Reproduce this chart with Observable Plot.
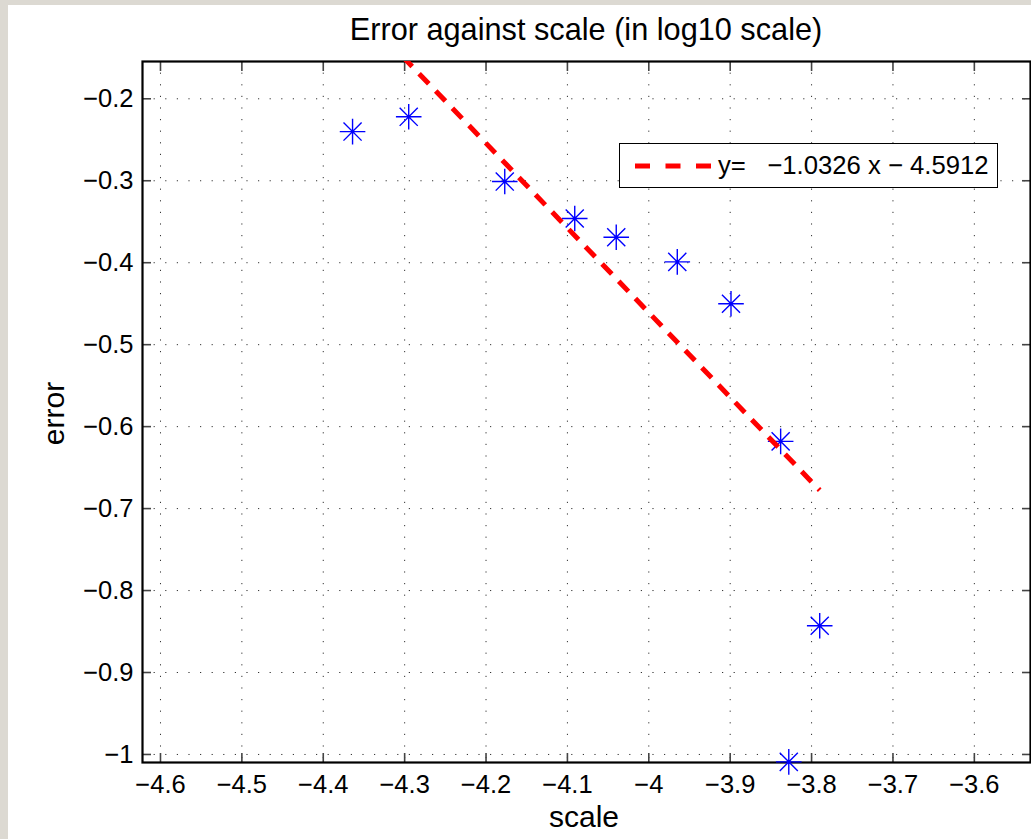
<!DOCTYPE html>
<html>
<head>
<meta charset="utf-8">
<script src="https://cdn.jsdelivr.net/npm/d3@7"></script>
<script src="https://cdn.jsdelivr.net/npm/@observablehq/plot@0.6"></script>
<style>
  html, body { margin: 0; padding: 0; overflow: hidden; }
  body { background: #dcd9d2; width: 1031px; height: 839px; position: relative; font-family: "Liberation Sans", Arial, Helvetica, sans-serif; }
  #fig { position: absolute; left: 8px; top: 5px; width: 1023px; height: 834px; background: #fff; overflow: hidden; }
  #title { position: absolute; left: 134px; width: 888px; top: 10px; text-align: center; font-size: 30.7px; line-height: 30.7px; color: #000; white-space: nowrap; }
  #xlabel { position: absolute; left: 132px; width: 888px; top: 797px; text-align: center; font-size: 30px; line-height: 30px; color: #000; }
  #ylabel { position: absolute; left: 31px; top: 759px; width: 701px; height: 30px; text-align: center; font-size: 30px; line-height: 30px; color: #000; transform-origin: 0 0; transform: rotate(-90deg); }
  #legend { position: absolute; left: 611px; top: 138px; width: 377px; height: 43px; border: 1.5px solid #000; background: #fff; display: flex; align-items: center; box-sizing: content-box; }
  #legend svg { margin-left: 15px; flex: none; }
  #legend span { margin-left: 7px; font-size: 25.7px; white-space: pre; color: #000; }
</style>
</head>
<body>
<div id="fig">
  <div id="chart"></div>
  <div id="title"></div>
  <div id="xlabel"></div>
  <div id="ylabel"></div>
  <div id="legend"></div>
</div>
<script>
// ---- data ----
const scaleLog = [-4.364, -4.295, -4.177, -4.091, -4.040, -3.965, -3.899, -3.838, -3.828, -3.790];
const errorLog = [-0.240, -0.222, -0.301, -0.346, -0.369, -0.399, -0.450, -0.618, -1.009, -0.843];
const fitSlope = -1.0326;
const fitIntercept = -4.5912;
const xTicks = [-4.6, -4.5, -4.4, -4.3, -4.2, -4.1, -4.0, -3.9, -3.8, -3.7, -3.6];
const yTicks = [-1.0, -0.9, -0.8, -0.7, -0.6, -0.5, -0.4, -0.3, -0.2];
const xDomain = [-4.6221, -3.531];
const yDomain = [-1.0098, -0.1545];
const titleText = "Error against scale (in log10 scale)";
const xLabelText = "scale";
const yLabelText = "error";
const legendText = "y=   \u22121.0326 x \u2212 4.5912";

// ---- derived tables ----
const points = scaleLog.map((x, i) => ({x, y: errorLog[i]}));
const fitX = d3.extent(scaleLog);
const fitLine = fitX.map(x => ({x, y: fitSlope * x + fitIntercept}));

const fmt = d => String(Math.round(d * 10) / 10).replace("-", "\u2212");

// MATLAB-style '*' marker: plus + times
const matlabStar = {
  draw(context, size) {
    const r = Math.sqrt(size / Math.PI);
    const d = r * Math.SQRT1_2;
    context.moveTo(-r, 0); context.lineTo(r, 0);
    context.moveTo(0, -r); context.lineTo(0, r);
    context.moveTo(-d, -d); context.lineTo(d, d);
    context.moveTo(-d, d); context.lineTo(d, -d);
  }
};

const tickStyle = {tickSize: -9, fill: "none", stroke: "#444", strokeWidth: 1.6, label: null};
const gridStyle = {stroke: "#000", strokeOpacity: 0.8, strokeWidth: 1, strokeDasharray: "1.2,10.4"};

const chart = Plot.plot({
  width: 1023,
  height: 834,
  marginLeft: 134,
  marginRight: 1,
  marginTop: 56,
  marginBottom: 77,
  style: {fontFamily: "'Liberation Sans', Arial, Helvetica, sans-serif", fontSize: "25.5px", background: "transparent", color: "#000", overflow: "visible"},
  x: {domain: xDomain},
  y: {domain: yDomain},
  marks: [
    Plot.gridX(xTicks, gridStyle),
    Plot.gridY(yTicks, gridStyle),
    Plot.axisX(xTicks, {anchor: "bottom", ...tickStyle}),
    Plot.axisX(xTicks, {anchor: "top", ...tickStyle}),
    Plot.axisY(yTicks, {anchor: "left", ...tickStyle}),
    Plot.axisY(yTicks, {anchor: "right", ...tickStyle}),
    Plot.axisX(xTicks, {anchor: "bottom", tickSize: 0, tickPadding: 12, tickFormat: fmt, label: null, fill: "#000", fontSize: 25.5}),
    Plot.axisY(yTicks, {anchor: "left", tickSize: 0, tickPadding: 9, tickFormat: fmt, label: null, fill: "#000", fontSize: 25.5}),
    Plot.frame({stroke: "#000", strokeWidth: 2.2}),
    Plot.dot(points, {x: "x", y: "y", symbol: matlabStar, r: 12.8, stroke: "#0000ff", fill: "none", strokeWidth: 1.4}),
    Plot.line(fitLine, {x: "x", y: "y", stroke: "#ff0000", strokeWidth: 5, strokeDasharray: "14,10", strokeLinecap: "butt", clip: true})
  ]
});
document.getElementById("chart").appendChild(chart);

document.getElementById("title").textContent = titleText;
document.getElementById("xlabel").textContent = xLabelText;
document.getElementById("ylabel").textContent = yLabelText;

// legend
const leg = document.getElementById("legend");
const ns = "http://www.w3.org/2000/svg";
const sw = document.createElementNS(ns, "svg");
sw.setAttribute("width", 76); sw.setAttribute("height", 8);
const ln = document.createElementNS(ns, "line");
ln.setAttribute("x1", 0); ln.setAttribute("x2", 76); ln.setAttribute("y1", 4); ln.setAttribute("y2", 4);
ln.setAttribute("stroke", "#ff0000"); ln.setAttribute("stroke-width", 5);
ln.setAttribute("stroke-dasharray", "15,15.5");
sw.appendChild(ln);
leg.appendChild(sw);
const sp = document.createElement("span");
sp.textContent = legendText;
leg.appendChild(sp);
</script>
</body>
</html>
